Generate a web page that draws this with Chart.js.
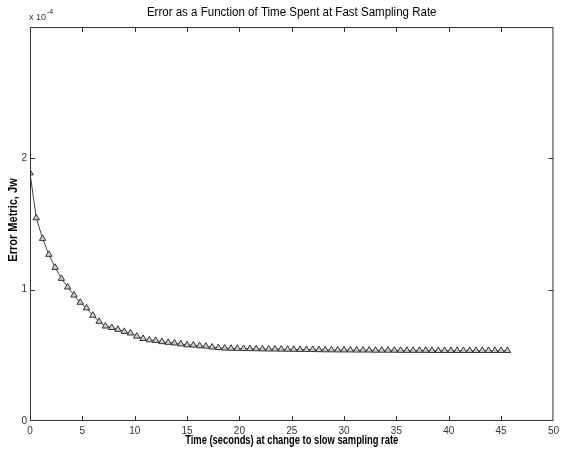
<!DOCTYPE html>
<html>
<head>
<meta charset="utf-8">
<script src="https://cdn.jsdelivr.net/npm/chart.js@4.4.0/dist/chart.umd.min.js"></script>
<style>
  html, body { margin: 0; padding: 0; background: #fff; }
</style>
</head>
<body>
<canvas id="chart" width="563" height="453"></canvas>
<script>
// time at which sampling switches to the slow rate (s)
const timeSec = [
  0, 0.6, 1.2, 1.8, 2.4, 3.0, 3.6, 4.2, 4.8, 5.4,
  6.0, 6.6, 7.2, 7.8, 8.4, 9.0, 9.6, 10.2, 10.8, 11.4,
  12.0, 12.6, 13.2, 13.8, 14.4, 15.0, 15.6, 16.2, 16.8, 17.4,
  18.0, 18.6, 19.2, 19.8, 20.4, 21.0, 21.6, 22.2, 22.8, 23.4,
  24.0, 24.6, 25.2, 25.8, 26.4, 27.0, 27.6, 28.2, 28.8, 29.4,
  30.0, 30.6, 31.2, 31.8, 32.4, 33.0, 33.6, 34.2, 34.8, 35.4,
  36.0, 36.6, 37.2, 37.8, 38.4, 39.0, 39.6, 40.2, 40.8, 41.4,
  42.0, 42.6, 43.2, 43.8, 44.4, 45.0, 45.6
];
// error metric Jw, in units of 1e-4
const errorJw = [
  1.888, 1.546, 1.389, 1.268, 1.169, 1.085, 1.019, 0.958, 0.903, 0.860,
  0.804, 0.758, 0.722, 0.711, 0.697, 0.681, 0.669, 0.645, 0.627, 0.617,
  0.612, 0.603, 0.598, 0.593, 0.586, 0.579, 0.577, 0.572, 0.569, 0.562,
  0.558, 0.554, 0.553, 0.552, 0.551, 0.550, 0.549, 0.548, 0.547, 0.547,
  0.546, 0.545, 0.545, 0.544, 0.544, 0.543, 0.542, 0.541, 0.541, 0.540,
  0.540, 0.540, 0.539, 0.539, 0.539, 0.538, 0.538, 0.538, 0.538, 0.537,
  0.537, 0.537, 0.537, 0.537, 0.536, 0.536, 0.536, 0.536, 0.536, 0.536,
  0.536, 0.536, 0.536, 0.536, 0.536, 0.536, 0.536
];
const xTicks = [0, 5, 10, 15, 20, 25, 30, 35, 40, 45, 50];
const yTicks = [0, 1, 2];

const chartTitle = 'Error as a Function of Time Spent at Fast Sampling Rate';
const xLabel = 'Time (seconds) at change to slow sampling rate';
const yLabel = 'Error Metric, Jw';

const FONT = '"Liberation Sans", Arial, sans-serif';
const INK = '#333';

// text squeezed sideways, the old matlab screen font is narrow
function narrowText(ctx, text, x, y, squeeze, angle) {
  ctx.save();
  ctx.translate(x, y);
  ctx.rotate(angle || 0);
  ctx.scale(squeeze, 1);
  ctx.fillText(text, 0, 0);
  ctx.restore();
}

// matlab-like frame: box all round, ticks pointing inwards, labels + exponent
const matlabBox = {
  id: 'matlabBox',
  afterDraw(chart) {
    const { ctx, chartArea: a, scales: { x, y } } = chart;
    ctx.save();
    ctx.strokeStyle = INK;
    ctx.lineWidth = 1;
    ctx.strokeRect(a.left + 0.5, a.top + 0.5, a.right - a.left - 1, a.bottom - a.top - 1);
    ctx.beginPath();
    xTicks.slice(1, -1).forEach(v => {
      const px = Math.round(x.getPixelForValue(v)) + 0.5;
      ctx.moveTo(px, a.bottom); ctx.lineTo(px, a.bottom - 5);
      ctx.moveTo(px, a.top); ctx.lineTo(px, a.top + 5);
    });
    yTicks.slice(1).forEach(v => {
      const py = Math.round(y.getPixelForValue(v)) + 0.5;
      ctx.moveTo(a.left, py); ctx.lineTo(a.left + 5, py);
      ctx.moveTo(a.right, py); ctx.lineTo(a.right - 5, py);
    });
    ctx.stroke();

    const midX = (a.left + a.right) / 2;
    const midY = (a.top + a.bottom) / 2;
    ctx.fillStyle = '#000';
    ctx.textAlign = 'center';
    ctx.textBaseline = 'middle';
    ctx.font = '12px ' + FONT;
    narrowText(ctx, chartTitle, midX, 12.5, 0.96);
    ctx.font = 'bold 12px ' + FONT;
    narrowText(ctx, xLabel, midX, 441, 0.78);
    narrowText(ctx, yLabel, 14, midY - 4, 0.92, -Math.PI / 2);

    ctx.fillStyle = INK;
    ctx.textAlign = 'left';
    ctx.textBaseline = 'alphabetic';
    ctx.font = '9px ' + FONT;
    ctx.fillText('x 10', 29, 20);
    ctx.font = '7px ' + FONT;
    ctx.fillText('-4', 47, 14);
    ctx.restore();
  }
};

new Chart(document.getElementById('chart'), {
  type: 'line',
  data: {
    datasets: [{
      data: timeSec.map((t, i) => ({ x: t, y: errorJw[i] })),
      borderColor: '#444',
      borderWidth: 1,
      tension: 0,
      pointStyle: 'triangle',
      pointRadius: 3.7,
      pointBorderWidth: 1,
      pointBorderColor: '#333',
      pointBackgroundColor: '#cfcfcf'
    }]
  },
  options: {
    responsive: false,
    animation: false,
    layout: { padding: { top: 27, right: 7, left: 0, bottom: 0 } },
    plugins: { legend: { display: false }, tooltip: { enabled: false } },
    scales: {
      x: {
        type: 'linear',
        min: 0, max: 50,
        afterBuildTicks: s => { s.ticks = xTicks.map(v => ({ value: v })); },
        afterFit: s => { s.height = 32; },
        grid: { display: false, drawTicks: false },
        border: { display: false },
        ticks: { padding: 4, color: INK, font: { family: FONT, size: 10 } }
      },
      y: {
        min: 0, max: 3,
        afterBuildTicks: s => { s.ticks = yTicks.map(v => ({ value: v })); },
        afterFit: s => { s.width = 30; },
        grid: { display: false, drawTicks: false },
        border: { display: false },
        ticks: { padding: 3, color: INK, font: { family: FONT, size: 10 } }
      }
    }
  },
  plugins: [matlabBox]
});
</script>
</body>
</html>
